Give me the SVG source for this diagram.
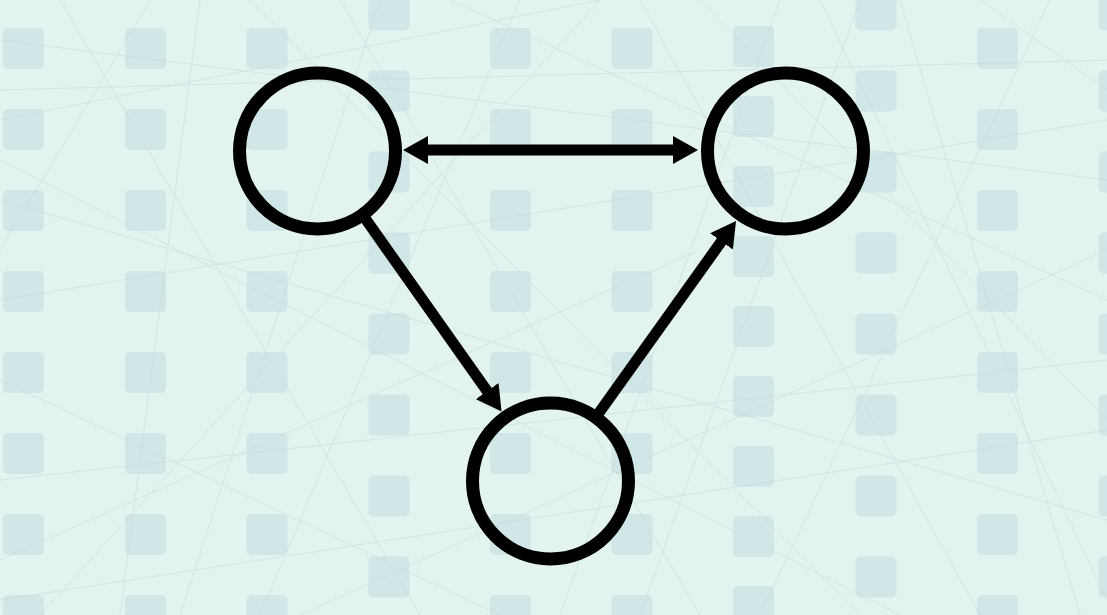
<svg xmlns="http://www.w3.org/2000/svg" xmlns:xlink="http://www.w3.org/1999/xlink" width="1107" height="615" viewBox="0 0 1107 615">
  <style>
    .bg { fill: #e2f3f0; }
    .tile { fill: #d0e6e7; }
    .tex { stroke: #c6dcdb; stroke-width: 1; fill: none; opacity: 0.6; }
    .node { fill: none; stroke: #000; stroke-width: 13; }
    .edge { fill: none; stroke: #000; stroke-width: 11; }
  </style>
  <defs>
    <rect id="t" x="-20.5" y="-20.5" width="41" height="41" rx="5"/>
    <marker id="ah" markerUnits="userSpaceOnUse" viewBox="0 0 28 28" markerWidth="28" markerHeight="28" refX="5" refY="14" orient="auto-start-reverse">
      <path d="M0,0 L25,14 L0,28 Z" fill="#000"/>
    </marker>
  </defs>

  <g id="background">
    <rect class="bg" x="0" y="0" width="1107" height="615"/>
    <g class="tile">
      <use xlink:href="#t" x="23.5" y="48.5"/><use xlink:href="#t" x="23.5" y="129.5"/><use xlink:href="#t" x="23.5" y="210.5"/><use xlink:href="#t" x="23.5" y="291.5"/><use xlink:href="#t" x="23.5" y="372.5"/><use xlink:href="#t" x="23.5" y="453.5"/><use xlink:href="#t" x="23.5" y="534.5"/><use xlink:href="#t" x="23.5" y="615.5"/>
      <use xlink:href="#t" x="145.5" y="48.5"/><use xlink:href="#t" x="145.5" y="129.5"/><use xlink:href="#t" x="145.5" y="210.5"/><use xlink:href="#t" x="145.5" y="291.5"/><use xlink:href="#t" x="145.5" y="372.5"/><use xlink:href="#t" x="145.5" y="453.5"/><use xlink:href="#t" x="145.5" y="534.5"/><use xlink:href="#t" x="145.5" y="615.5"/>
      <use xlink:href="#t" x="267" y="48.5"/><use xlink:href="#t" x="267" y="129.5"/><use xlink:href="#t" x="267" y="210.5"/><use xlink:href="#t" x="267" y="291.5"/><use xlink:href="#t" x="267" y="372.5"/><use xlink:href="#t" x="267" y="453.5"/><use xlink:href="#t" x="267" y="534.5"/><use xlink:href="#t" x="267" y="615.5"/>
      <use xlink:href="#t" x="389" y="10"/><use xlink:href="#t" x="389" y="91"/><use xlink:href="#t" x="389" y="172"/><use xlink:href="#t" x="389" y="253"/><use xlink:href="#t" x="389" y="334"/><use xlink:href="#t" x="389" y="415"/><use xlink:href="#t" x="389" y="496"/><use xlink:href="#t" x="389" y="577"/>
      <use xlink:href="#t" x="510.5" y="48.5"/><use xlink:href="#t" x="510.5" y="129.5"/><use xlink:href="#t" x="510.5" y="210.5"/><use xlink:href="#t" x="510.5" y="291.5"/><use xlink:href="#t" x="510.5" y="372.5"/><use xlink:href="#t" x="510.5" y="453.5"/><use xlink:href="#t" x="510.5" y="534.5"/><use xlink:href="#t" x="510.5" y="615.5"/>
      <use xlink:href="#t" x="632" y="48.5"/><use xlink:href="#t" x="632" y="129.5"/><use xlink:href="#t" x="632" y="210.5"/><use xlink:href="#t" x="632" y="291.5"/><use xlink:href="#t" x="632" y="372.5"/><use xlink:href="#t" x="632" y="453.5"/><use xlink:href="#t" x="632" y="534.5"/><use xlink:href="#t" x="632" y="615.5"/>
      <use xlink:href="#t" x="753.5" y="46.5"/><use xlink:href="#t" x="753.5" y="116.5"/><use xlink:href="#t" x="753.5" y="186.5"/><use xlink:href="#t" x="753.5" y="256.5"/><use xlink:href="#t" x="753.5" y="326.5"/><use xlink:href="#t" x="753.5" y="396.5"/><use xlink:href="#t" x="753.5" y="466.5"/><use xlink:href="#t" x="753.5" y="536.5"/><use xlink:href="#t" x="753.5" y="606.5"/>
      <use xlink:href="#t" x="876" y="10"/><use xlink:href="#t" x="876" y="91"/><use xlink:href="#t" x="876" y="172"/><use xlink:href="#t" x="876" y="253"/><use xlink:href="#t" x="876" y="334"/><use xlink:href="#t" x="876" y="415"/><use xlink:href="#t" x="876" y="496"/><use xlink:href="#t" x="876" y="577"/>
      <use xlink:href="#t" x="997.5" y="48.5"/><use xlink:href="#t" x="997.5" y="129.5"/><use xlink:href="#t" x="997.5" y="210.5"/><use xlink:href="#t" x="997.5" y="291.5"/><use xlink:href="#t" x="997.5" y="372.5"/><use xlink:href="#t" x="997.5" y="453.5"/><use xlink:href="#t" x="997.5" y="534.5"/><use xlink:href="#t" x="997.5" y="615.5"/>
      <use xlink:href="#t" x="1119" y="10"/><use xlink:href="#t" x="1119" y="91"/><use xlink:href="#t" x="1119" y="172"/><use xlink:href="#t" x="1119" y="253"/><use xlink:href="#t" x="1119" y="334"/><use xlink:href="#t" x="1119" y="415"/><use xlink:href="#t" x="1119" y="496"/><use xlink:href="#t" x="1119" y="577"/>
    </g>
    <g class="tex">
      <path d="M0,40 L1107,180"/>
      <path d="M0,300 L1107,120"/>
      <path d="M60,0 L420,615"/>
      <path d="M200,0 L120,615"/>
      <path d="M340,0 L700,615"/>
      <path d="M520,0 L260,615"/>
      <path d="M640,0 L980,615"/>
      <path d="M780,0 L560,615"/>
      <path d="M900,0 L1080,615"/>
      <path d="M1050,0 L760,615"/>
      <path d="M0,480 L1107,360"/>
      <path d="M0,200 L1107,520"/>
      <path d="M0,560 L700,250"/>
      <path d="M300,615 L1107,250"/>
      <path d="M0,120 L600,0"/>
      <path d="M450,0 L1107,300"/>
      <path d="M0,380 L500,615"/>
      <path d="M150,0 L0,250"/>
      <path d="M980,0 L1107,90"/>
      <path d="M700,0 L1107,420"/>
      <path d="M0,600 L1107,430"/>
      <path d="M250,0 L860,615"/>
      <path d="M600,0 L40,615"/>
      <path d="M1107,600 L820,0"/>
      <path d="M0,160 L900,615"/>
      <path d="M0,90 L1107,60"/>
      <path d="M380,0 L180,615"/>
      <path d="M860,0 L640,615"/>
    </g>
  </g>

  <g id="connectors">
    <path class="edge" d="M423,150 L678,150" marker-start="url(#ah)" marker-end="url(#ah)"/>
    <path class="edge" d="M362.5,214.7 L490,395.2" marker-end="url(#ah)"/>
    <path class="edge" d="M595.7,417.4 L724.4,237.3" marker-end="url(#ah)"/>
  </g>

  <g id="node-a"><circle class="node" cx="317.5" cy="151" r="78"/></g>
  <g id="node-c"><circle class="node" cx="785.5" cy="151" r="78"/></g>
  <g id="node-b"><circle class="node" cx="550.5" cy="481" r="78"/></g>
</svg>
